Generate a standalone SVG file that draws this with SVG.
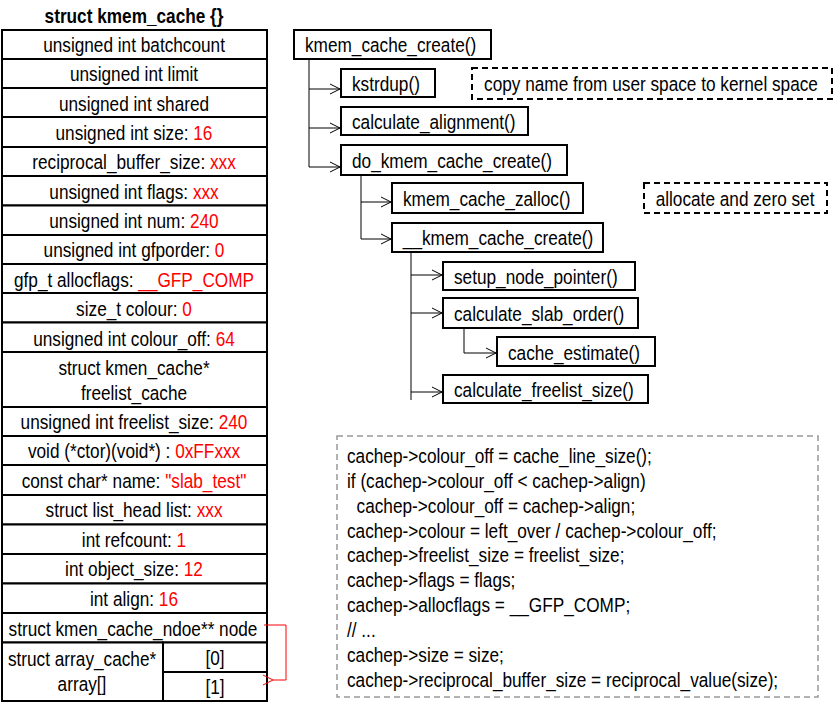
<svg xmlns="http://www.w3.org/2000/svg" width="834" height="703" viewBox="0 0 834 703">
<defs>
<style>
text{font-family:"Liberation Sans Narrow","Liberation Sans",Arial,sans-serif;font-size:20.5px;fill:#000;transform-box:fill-box;transform-origin:left center;transform:scaleX(0.84)}
text.c{text-anchor:middle;transform-origin:center center}
.r{fill:#ff0000}
.t{font-weight:bold}
.cell{fill:#fff;stroke:#000;stroke-width:2}
.box{fill:#fff;stroke:#000;stroke-width:2}
.dash{fill:none;stroke:#000;stroke-width:2;stroke-dasharray:6 4}
.code{fill:none;stroke:#999;stroke-width:1.5;stroke-dasharray:6 4}
.ln{fill:none;stroke:#000;stroke-width:1}
</style>
<marker id="ah" markerWidth="12" markerHeight="12" refX="10" refY="6" orient="auto" markerUnits="userSpaceOnUse">
<path d="M0,1 L10,6 L0,11" fill="none" stroke="#000" stroke-width="1"/>
</marker>
<marker id="ahr" markerWidth="14" markerHeight="12" refX="1" refY="6" orient="auto" markerUnits="userSpaceOnUse">
<path d="M11,1 L1,6 L11,11" fill="none" stroke="#ff0000" stroke-width="1"/>
</marker>
</defs>
<rect width="834" height="703" fill="#fff"/>

<g id="struct">
<text class="c t" x="134" y="23">struct kmem_cache {}</text>
<rect class="cell" x="2" y="30" width="265" height="29"/>
<text class="c" x="134" y="52">unsigned int batchcount</text>
<rect class="cell" x="2" y="59" width="265" height="29"/>
<text class="c" x="134" y="81">unsigned int limit</text>
<rect class="cell" x="2" y="88" width="265" height="29"/>
<text class="c" x="134" y="111">unsigned int shared</text>
<rect class="cell" x="2" y="117" width="265" height="30"/>
<text class="c" x="134" y="140">unsigned int size: <tspan class="r">16</tspan></text>
<rect class="cell" x="2" y="147" width="265" height="29"/>
<text class="c" x="134" y="169">reciprocal_buffer_size: <tspan class="r">xxx</tspan></text>
<rect class="cell" x="2" y="176" width="265" height="29.5"/>
<text class="c" x="134" y="199">unsigned int flags: <tspan class="r">xxx</tspan></text>
<rect class="cell" x="2" y="205.5" width="265" height="29.5"/>
<text class="c" x="134" y="228">unsigned int num: <tspan class="r">240</tspan></text>
<rect class="cell" x="2" y="235" width="265" height="29"/>
<text class="c" x="134" y="257">unsigned int gfporder: <tspan class="r">0</tspan></text>
<rect class="cell" x="2" y="264" width="265" height="29"/>
<text class="c" x="134" y="287">gfp_t allocflags: <tspan class="r">__GFP_COMP</tspan></text>
<rect class="cell" x="2" y="293" width="265" height="29.5"/>
<text class="c" x="134" y="316">size_t colour: <tspan class="r">0</tspan></text>
<rect class="cell" x="2" y="322.5" width="265" height="29.5"/>
<text class="c" x="134" y="346">unsigned int colour_off: <tspan class="r">64</tspan></text>
<rect class="cell" x="2" y="352" width="265" height="55"/>
<text class="c" x="134" y="375">struct kmen_cache*</text>
<text class="c" x="134" y="400">freelist_cache</text>
<rect class="cell" x="2" y="407" width="265" height="29"/>
<text class="c" x="134" y="429">unsigned int freelist_size: <tspan class="r">240</tspan></text>
<rect class="cell" x="2" y="436" width="265" height="29"/>
<text class="c" x="134" y="458">void (*ctor)(void*) : <tspan class="r">0xFFxxx</tspan></text>
<rect class="cell" x="2" y="465" width="265" height="30"/>
<text class="c" x="134" y="488">const char* name: <tspan class="r">"slab_test"</tspan></text>
<rect class="cell" x="2" y="495" width="265" height="29.5"/>
<text class="c" x="134" y="517">struct list_head list: <tspan class="r">xxx</tspan></text>
<rect class="cell" x="2" y="524.5" width="265" height="29.5"/>
<text class="c" x="134" y="547">int refcount: <tspan class="r">1</tspan></text>
<rect class="cell" x="2" y="554" width="265" height="29.5"/>
<text class="c" x="134" y="576">int object_size: <tspan class="r">12</tspan></text>
<rect class="cell" x="2" y="583.5" width="265" height="29.5"/>
<text class="c" x="134" y="606">int align: <tspan class="r">16</tspan></text>
<rect class="cell" x="2" y="613" width="265" height="29.5"/>
<text class="c" x="133" y="636">struct kmen_cache_ndoe** node</text>
<rect class="cell" x="2" y="642.5" width="161" height="58.5"/>
<text class="c" x="82" y="666">struct array_cache*</text>
<text class="c" x="82" y="691">array[]</text>
<rect class="cell" x="163" y="642.5" width="104" height="29.5"/>
<text class="c" x="215" y="665">[0]</text>
<rect class="cell" x="163" y="672" width="104" height="29"/>
<text class="c" x="215" y="694">[1]</text>
</g>

<g id="kmem_cache_create">
<rect class="box" x="294" y="30" width="197" height="29"/>
<text x="305" y="52">kmem_cache_create()</text>
</g>
<g id="kstrdup">
<rect class="box" x="341" y="69" width="94" height="28"/>
<text x="352" y="91">kstrdup()</text>
</g>
<g id="note_copy">
<rect class="dash" x="472" y="68" width="360" height="31"/>
<text class="c" x="651" y="91">copy name from user space to kernel space</text>
</g>
<g id="calculate_alignment">
<rect class="box" x="341" y="107" width="187" height="28"/>
<text x="352" y="129">calculate_alignment()</text>
</g>
<g id="do_kmem_cache_create">
<rect class="box" x="341" y="145" width="226" height="30"/>
<text x="352" y="168">do_kmem_cache_create()</text>
</g>
<g id="kmem_cache_zalloc">
<rect class="box" x="392" y="183" width="191" height="30"/>
<text x="403" y="206">kmem_cache_zalloc()</text>
</g>
<g id="note_alloc">
<rect class="dash" x="644" y="183" width="183" height="30"/>
<text class="c" x="735" y="206">allocate and zero set</text>
</g>
<g id="__kmem_cache_create">
<rect class="box" x="392" y="223" width="211" height="29"/>
<text x="403" y="245">__kmem_cache_create()</text>
</g>
<g id="setup_node_pointer">
<rect class="box" x="443" y="262" width="192" height="28"/>
<text x="454" y="284">setup_node_pointer()</text>
</g>
<g id="calculate_slab_order">
<rect class="box" x="443" y="298" width="195" height="30"/>
<text x="454" y="321">calculate_slab_order()</text>
</g>
<g id="cache_estimate">
<rect class="box" x="497" y="337" width="158" height="29"/>
<text x="508" y="360">cache_estimate()</text>
</g>
<g id="calculate_freelist_size">
<rect class="box" x="443" y="375" width="205" height="28"/>
<text x="454" y="397">calculate_freelist_size()</text>
</g>

<g id="code">
<rect class="code" x="337" y="436" width="481" height="261"/>
<text x="347" y="463">cachep-&gt;colour_off = cache_line_size();</text>
<text x="347" y="488">if (cachep-&gt;colour_off &lt; cachep-&gt;align)</text>
<text x="347" y="513" xml:space="preserve">  cachep-&gt;colour_off = cachep-&gt;align;</text>
<text x="347" y="538">cachep-&gt;colour = left_over / cachep-&gt;colour_off;</text>
<text x="347" y="562">cachep-&gt;freelist_size = freelist_size;</text>
<text x="347" y="587">cachep-&gt;flags = flags;</text>
<text x="347" y="612">cachep-&gt;allocflags = __GFP_COMP;</text>
<text x="347" y="637">// ...</text>
<text x="347" y="662">cachep-&gt;size = size;</text>
<text x="347" y="687">cachep-&gt;reciprocal_buffer_size = reciprocal_value(size);</text>
</g>

<g id="connectors">
<path class="ln" d="M309,59 V167"/>
<path class="ln" d="M309,89 H340" marker-end="url(#ah)"/>
<path class="ln" d="M309,128 H340" marker-end="url(#ah)"/>
<path class="ln" d="M309,167 H340" marker-end="url(#ah)"/>
<path class="ln" d="M361,175 V239"/>
<path class="ln" d="M361,202 H391" marker-end="url(#ah)"/>
<path class="ln" d="M361,239 H391" marker-end="url(#ah)"/>
<path class="ln" d="M411,252 V400"/>
<path class="ln" d="M411,275 H442" marker-end="url(#ah)"/>
<path class="ln" d="M411,313 H442" marker-end="url(#ah)"/>
<path class="ln" d="M411,392 H442" marker-end="url(#ah)"/>
<path class="ln" d="M464,328 V353 H496" marker-end="url(#ah)"/>
<path d="M264,625 H286 V680 H273" fill="none" stroke="#ff0000" stroke-width="1" marker-end="url(#ahr)"/>
</g>
</svg>
